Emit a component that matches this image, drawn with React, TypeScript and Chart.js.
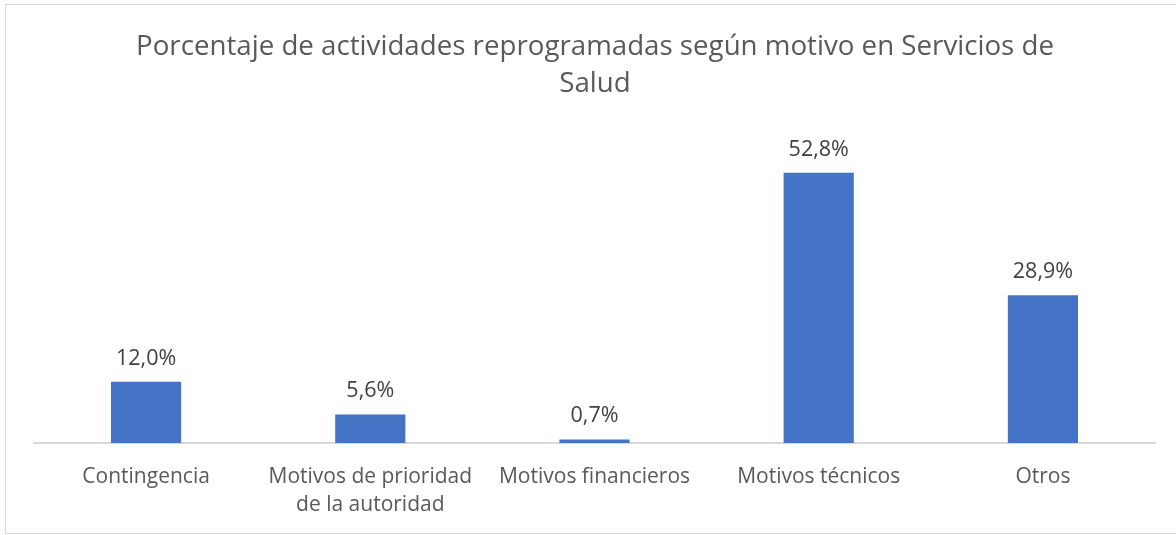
import React, { useEffect, useRef } from "react";
import { Chart, registerables } from "chart.js";

Chart.register(...registerables);

const categories: (string | string[])[] = [
  "Contingencia",
  ["Motivos de prioridad", "de la autoridad"],
  "Motivos financieros",
  "Motivos técnicos",
  "Otros",
];
const values: number[] = [12.0, 5.6, 0.7, 52.8, 28.9];
const titleLines: string[] = [
  "Porcentaje de actividades reprogramadas según motivo en Servicios de",
  "Salud",
];

const FONT = "'Open Sans', sans-serif";

const decor = {
  id: "decor",
  beforeDraw(chart: any) {
    const ctx = chart.ctx;
    ctx.save();
    ctx.fillStyle = "#ffffff";
    ctx.fillRect(0, 0, chart.width, chart.height);
    ctx.strokeStyle = "#d9d9d9";
    ctx.lineWidth = 1;
    ctx.strokeRect(5.5, 4.5, chart.width + 10, chart.height - 6);
    ctx.restore();
  },
  afterDraw(chart: any) {
    const ctx = chart.ctx;
    ctx.save();
    ctx.fillStyle = "#595959";
    ctx.font = `27.7px ${FONT}`;
    ctx.textAlign = "center";
    ctx.textBaseline = "middle";
    titleLines.forEach((t, i) => ctx.fillText(t, 595, 47 + i * 37));
    const meta = chart.getDatasetMeta(0);
    ctx.fillStyle = "#404040";
    ctx.font = `21.5px ${FONT}`;
    ctx.textBaseline = "alphabetic";
    meta.data.forEach((el: any, i: number) => {
      ctx.fillText(values[i].toFixed(1).replace(".", ",") + "%", el.x, el.y - 17);
    });
    ctx.restore();
  },
};

export default function App() {
  const ref = useRef<HTMLCanvasElement>(null);
  useEffect(() => {
    document.body.style.margin = "0";
    const chart = new Chart(ref.current!, {
      type: "bar",
      data: {
        labels: categories,
        datasets: [
          {
            data: values,
            backgroundColor: "#4472C4",
            categoryPercentage: 1,
            barPercentage: 0.313,
          },
        ],
      },
      options: {
        animation: false,
        responsive: true,
        maintainAspectRatio: false,
        layout: { padding: { top: 136, left: 34, right: 21, bottom: 4 } },
        plugins: { legend: { display: false }, title: { display: false }, tooltip: { enabled: false } },
        scales: {
          x: {
            grid: { display: false },
            border: { display: true, color: "#d9d9d9", width: 2 },
            ticks: {
              color: "#595959",
              font: { family: FONT, size: 21, lineHeight: 1.38 },
              maxRotation: 0,
              autoSkip: false,
              padding: 11,
            },
          },
          y: { display: false, min: 0, max: 60 },
        },
      },
      plugins: [decor],
    });
    return () => chart.destroy();
  }, []);
  return (
    <div style={{ width: 1176, height: 535, position: "relative" }}>
      <canvas ref={ref} />
    </div>
  );
}
